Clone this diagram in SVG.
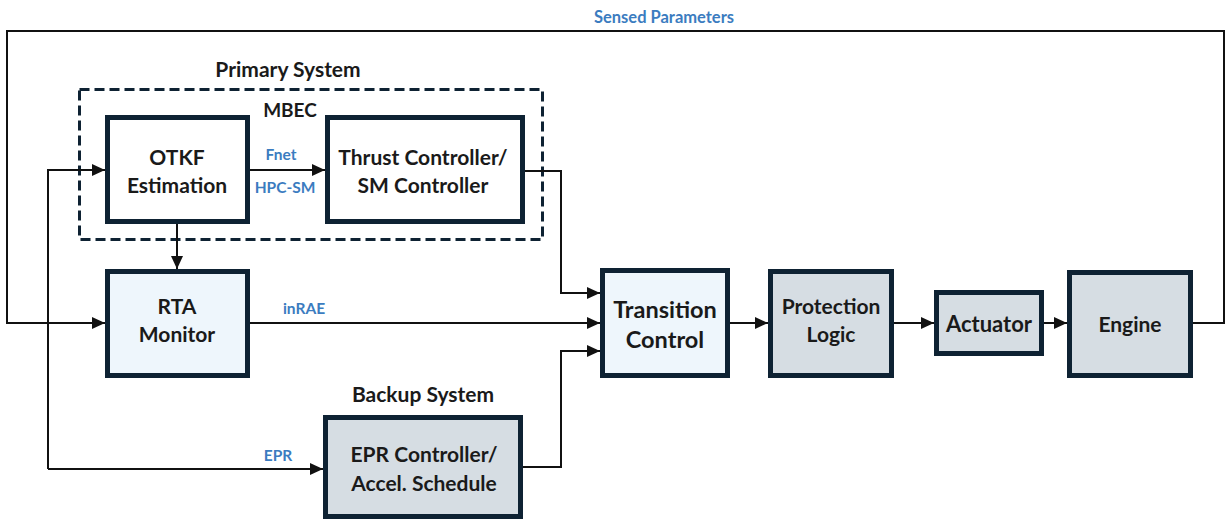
<svg xmlns="http://www.w3.org/2000/svg" width="1225" height="520" viewBox="0 0 1225 520">
<style>
text{font-family:Lato,"Open Sans","Liberation Sans",sans-serif;font-weight:bold;text-anchor:middle;fill:#1a1a1a}
.lbl{fill:#3b7cc0;font-size:15.5px}
.box{stroke:#0e2233;stroke-width:5}
.blue{fill:#eef6fc}
.gray{fill:#d6dde3}
.white{fill:#ffffff}
.t21{font-size:21px}
.t23{font-size:23.5px}
.hdr{font-size:21px}
.conn path{fill:none;stroke:#111;stroke-width:2}
</style>
<defs>
<marker id="arr" markerUnits="userSpaceOnUse" markerWidth="13" markerHeight="12" refX="13" refY="6" orient="auto">
<path d="M0,0 L13,6 L0,12 z" fill="#111"/>
</marker>
</defs>
<rect width="1225" height="520" fill="#ffffff"/>
<text class="lbl" x="664" y="23" style="font-size:16.5px">Sensed Parameters</text>
<g id="primary-system">
<rect x="79.5" y="89.5" width="463" height="150" fill="none" stroke="#0e2233" stroke-width="3" stroke-dasharray="10,5"/>
<text class="hdr" x="288" y="77">Primary System</text>
<text x="290" y="117" style="font-size:19px">MBEC</text>
</g>
<g class="conn" id="connectors">
<path d="M1193,323 H1224 V31 H7 V323 H105" marker-end="url(#arr)"/>
<path d="M48,469 V170 H105" marker-end="url(#arr)"/>
<path d="M48,469 H323" marker-end="url(#arr)"/>
<path d="M250,170 H325" marker-end="url(#arr)"/>
<path d="M177,224 V269" marker-end="url(#arr)"/>
<path d="M525,171 H561 V293 H600" marker-end="url(#arr)"/>
<path d="M250,323 H600" marker-end="url(#arr)"/>
<path d="M523,467 H561 V351 H600" marker-end="url(#arr)"/>
<path d="M730,323 H768" marker-end="url(#arr)"/>
<path d="M894,323 H934" marker-end="url(#arr)"/>
<path d="M1044,323 H1067" marker-end="url(#arr)"/>
</g>
<g id="labels">
<text class="lbl" x="281" y="160">Fnet</text>
<text class="lbl" x="285" y="193">HPC-SM</text>
<text class="lbl" x="304" y="314">inRAE</text>
<text class="lbl" x="278" y="461">EPR</text>
</g>
<g id="otkf">
<rect class="box white" x="107.5" y="117.5" width="140" height="104"/>
<text class="t21" x="177" y="165">OTKF</text>
<text class="t21" x="177" y="193">Estimation</text>
</g>
<g id="thrust">
<rect class="box white" x="327.5" y="117.5" width="195" height="104"/>
<text class="t21" x="423" y="165">Thrust Controller/</text>
<text class="t21" x="423" y="193">SM Controller</text>
</g>
<g id="rta">
<rect class="box blue" x="107.5" y="271.5" width="140" height="104"/>
<text class="t21" x="177" y="314">RTA</text>
<text class="t21" x="177" y="342">Monitor</text>
</g>
<g id="transition">
<rect class="box blue" x="602.5" y="270.5" width="125" height="105"/>
<text class="t23" x="665" y="318">Transition</text>
<text class="t23" x="665" y="348">Control</text>
</g>
<g id="protection">
<rect class="box gray" x="770.5" y="271.5" width="121" height="104"/>
<text class="t21" x="831" y="314">Protection</text>
<text class="t21" x="831" y="342">Logic</text>
</g>
<g id="actuator">
<rect class="box gray" x="936.5" y="292.5" width="105" height="61"/>
<text x="989" y="332" style="font-size:22px">Actuator</text>
</g>
<g id="engine">
<rect class="box gray" x="1069.5" y="272.5" width="121" height="103"/>
<text class="t21" x="1130" y="332">Engine</text>
</g>
<g id="backup-system">
<text class="hdr" x="423" y="402">Backup System</text>
</g>
<g id="epr">
<rect class="box gray" x="325.5" y="417.5" width="195" height="99"/>
<text class="t21" x="424" y="462">EPR Controller/</text>
<text class="t21" x="424" y="491">Accel. Schedule</text>
</g>
</svg>
